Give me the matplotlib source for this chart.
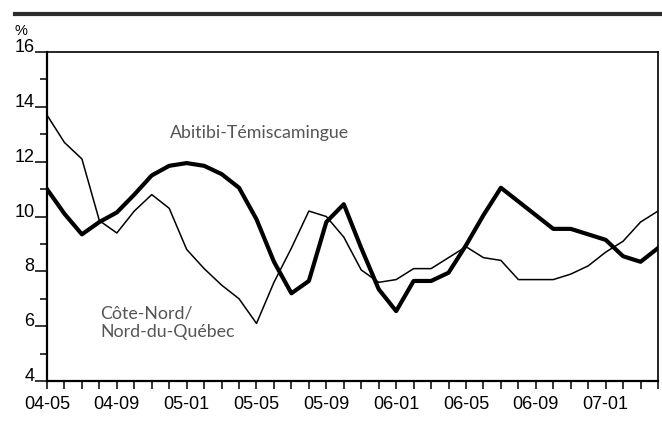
import pandas as pd
import matplotlib.pyplot as plt
from matplotlib.lines import Line2D
from matplotlib.ticker import MultipleLocator

# Monthly unemployment rate (%), May 2004 to April 2007
months = pd.period_range('2004-05', periods=36, freq='M').strftime('%y-%m').tolist()

abitibi = [11.0, 10.1, 9.35, 9.8, 10.15, 10.8, 11.5, 11.85, 11.95, 11.85, 11.55, 11.05,
           9.9, 8.35, 7.2, 7.65, 9.8, 10.45, 8.85, 7.35, 6.55, 7.65, 7.65, 7.95,
           8.95, 10.05, 11.05, 10.55, 10.05, 9.55, 9.55, 9.35, 9.15, 8.55, 8.35, 8.85]

cote_nord = [13.7, 12.7, 12.1, 9.85, 9.4, 10.2, 10.8, 10.3, 8.8, 8.1, 7.5, 7.0,
             6.1, 7.6, 8.85, 10.2, 10.0, 9.25, 8.05, 7.6, 7.7, 8.1, 8.1, 8.5,
             8.9, 8.5, 8.4, 7.7, 7.7, 7.7, 7.9, 8.2, 8.7, 9.1, 9.8, 10.2]

label_every = 4

fig = plt.figure(figsize=(6.62, 4.25), dpi=100)
ax = fig.add_axes([0.071, 0.1035, 0.923, 0.774])

x = list(range(len(months)))
ax.plot(x, cote_nord, color='black', linewidth=1.1)
ax.plot(x, abitibi, color='black', linewidth=3.0)

ax.set_xlim(0, len(months) - 1)
ax.set_ylim(4, 16)

ax.set_xticks(x)
ax.set_xticklabels([m if i % label_every == 0 else '' for i, m in enumerate(months)],
                   fontsize=13, family='Liberation Sans')
ax.tick_params(axis='x', direction='out', length=6, width=1.1, pad=4.5)

ax.yaxis.set_major_locator(MultipleLocator(2))
ax.yaxis.set_minor_locator(MultipleLocator(1))
ax.tick_params(axis='y', which='major', direction='out', length=9, width=1.1, pad=0,
               labelsize=13)
ax.tick_params(axis='y', which='minor', direction='out', length=5, width=1.1)
for lab in ax.get_yticklabels():
    lab.set_family('Liberation Sans')
    lab.set_verticalalignment('baseline')

for side in ['left', 'bottom']:
    ax.spines[side].set_linewidth(1.6)
for side in ['top', 'right']:
    ax.spines[side].set_linewidth(1.2)

# series labels
ax.text(7.05, 13.05, 'Abitibi-Témiscamingue', fontsize=12.8, color='#555555',
        family='Lato', va='center', ha='left')
ax.text(3.05, 6.12, 'Côte-Nord/\nNord-du-Québec', fontsize=12.8, color='#555555',
        family='Lato', va='center', ha='left', linespacing=1.15)

# unit label and top rule
fig.text(0.022, 0.91, '%', fontsize=10.5, family='Liberation Sans', ha='left', va='bottom')
fig.add_artist(Line2D([0.022, 1.0], [0.968, 0.968], transform=fig.transFigure,
                      color='#2b2b2b', linewidth=3.0))

fig.savefig('out.png', dpi=100)
